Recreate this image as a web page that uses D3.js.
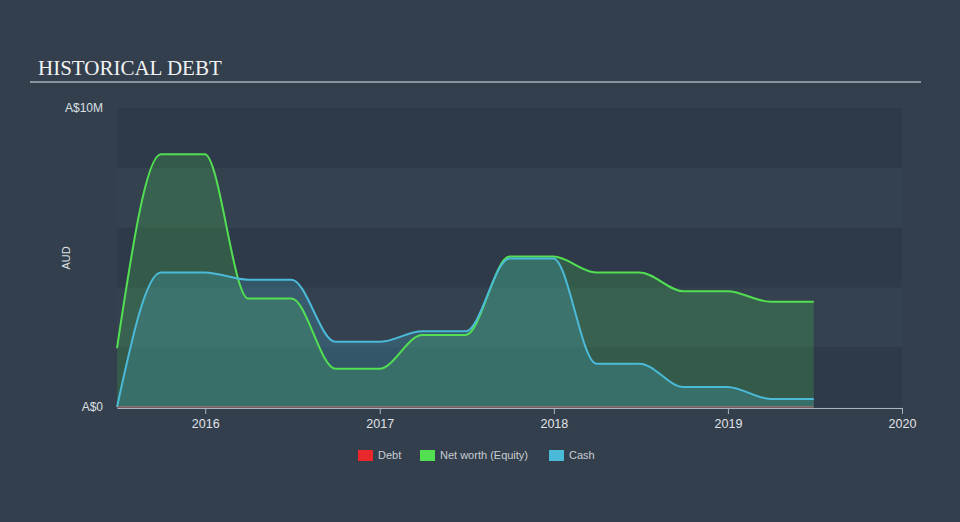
<!DOCTYPE html>
<html>
<head>
<meta charset="utf-8">
<script src="https://cdn.jsdelivr.net/npm/d3@7"></script>
<style>
  html, body { margin: 0; padding: 0; background: #333f4d; }
  svg { display: block; }
</style>
</head>
<body>
<svg id="chart" width="960" height="522"></svg>
<script>
// ---- data ----
const dates = ["2015-06-30","2015-09-30","2015-12-31","2016-03-31","2016-06-30","2016-09-30","2016-12-31",
  "2017-03-31","2017-06-30","2017-09-30","2017-12-31","2018-03-31","2018-06-30","2018-09-30","2018-12-31",
  "2019-03-31","2019-06-30"];
const debt   = [0,0,0,0,0,0,0,0,0,0,0,0,0,0,0,0,0];
const equity = [1.97,8.45,8.45,3.63,3.63,1.28,1.28,2.41,2.41,5.03,5.03,4.5,4.5,3.87,3.87,3.52,3.52];
const cash   = [0,4.5,4.5,4.26,4.26,2.18,2.18,2.53,2.53,4.97,4.97,1.45,1.45,0.67,0.67,0.27,0.27];
const xTicks = ["2016","2017","2018","2019","2020"];
const yTicks = [0, 10];
const legendItems = ["Debt", "Net worth (Equity)", "Cash"];
const colors = { "Debt": "#e8282b", "Net worth (Equity)": "#52e052", "Cash": "#4bbad9" };

const parse = d3.timeParse("%Y-%m-%d");
const svg = d3.select("#chart");

const x = d3.scaleTime().domain([parse("2015-06-30"), parse("2020-01-01")]).range([117, 902]);
const y = d3.scaleLinear().domain([0, 10]).range([407, 108]);

// bands
const bandVals = d3.range(0, 10, 2);
svg.append("g").selectAll("rect").data(bandVals).join("rect")
  .attr("x", 117).attr("width", 902 - 117)
  .attr("y", d => y(d + 2)).attr("height", d => y(d) - y(d + 2))
  .attr("fill", (d, i) => i % 2 === 0 ? "#2e3a49" : "#34414f");

// title
svg.append("text").attr("x", 38).attr("y", 75)
  .attr("font-family", "Liberation Serif, serif").attr("font-size", 21)
  .attr("fill", "#f2f2f2").text("HISTORICAL DEBT");
svg.append("line").attr("x1", 30).attr("x2", 921).attr("y1", 82).attr("y2", 82)
  .attr("stroke", "#a9b1ba").attr("stroke-width", 1.5);

// y labels
svg.append("g").selectAll("text").data(yTicks).join("text")
  .attr("x", 103).attr("y", d => y(d)).attr("dy", "0.35em")
  .attr("text-anchor", "end")
  .attr("font-family", "Liberation Sans, Arial, sans-serif").attr("font-size", 12)
  .attr("fill", "#dde0e3").text(d => d === 0 ? "A$0" : "A$" + d + "M");

svg.append("text").attr("transform", "translate(70,258) rotate(-90)")
  .attr("text-anchor", "middle")
  .attr("font-family", "Liberation Sans, Arial, sans-serif").attr("font-size", 11)
  .attr("fill", "#dde0e3").text("AUD");

// series
const rows = dates.map((d, i) => ({ date: parse(d), debt: debt[i], equity: equity[i], cash: cash[i] }));
const area = key => d3.area().curve(d3.curveMonotoneX).x(d => x(d.date)).y0(y(0)).y1(d => y(d[key]));
const line = key => d3.line().curve(d3.curveMonotoneX).x(d => x(d.date)).y(d => y(d[key]));

svg.append("path").datum(rows).attr("d", area("equity")).attr("fill", colors["Net worth (Equity)"]).attr("fill-opacity", 0.2);
svg.append("path").datum(rows).attr("d", area("cash")).attr("fill", colors["Cash"]).attr("fill-opacity", 0.22);

// x axis
const xAxis = d3.axisBottom(x)
  .tickValues(xTicks.map(t => parse(t + "-01-01")))
  .tickFormat(d3.timeFormat("%Y")).tickSize(6).tickSizeOuter(0);
const gx = svg.append("g").attr("transform", "translate(0,408)").call(xAxis);
gx.select(".domain").attr("stroke", "#a9b4c0");
gx.selectAll(".tick line").attr("stroke", "#a9b4c0");
gx.selectAll(".tick text").attr("font-family", "Liberation Sans, Arial, sans-serif")
  .attr("font-size", 12.5).attr("fill", "#e0e3e6").attr("dy", "0.9em");

svg.append("path").datum(rows).attr("d", line("equity")).attr("fill", "none").attr("stroke", colors["Net worth (Equity)"]).attr("stroke-width", 2);
svg.append("path").datum(rows).attr("d", line("cash")).attr("fill", "none").attr("stroke", colors["Cash"]).attr("stroke-width", 2);
svg.append("path").datum(rows).attr("d", line("debt")).attr("fill", "none").attr("stroke", "#c27b78").attr("stroke-width", 1);

// legend
const legendX = [358, 420, 549];
const lg = svg.append("g").selectAll("g").data(legendItems).join("g")
  .attr("transform", (d, i) => `translate(${legendX[i]},450)`);
lg.append("rect").attr("width", 15).attr("height", 11).attr("fill", d => colors[d]);
lg.append("text").attr("x", 20).attr("y", 5.5).attr("dy", "0.35em")
  .attr("font-family", "Liberation Sans, Arial, sans-serif").attr("font-size", 11)
  .attr("fill", "#c8cdd2").text(d => d);
</script>
</body>
</html>
